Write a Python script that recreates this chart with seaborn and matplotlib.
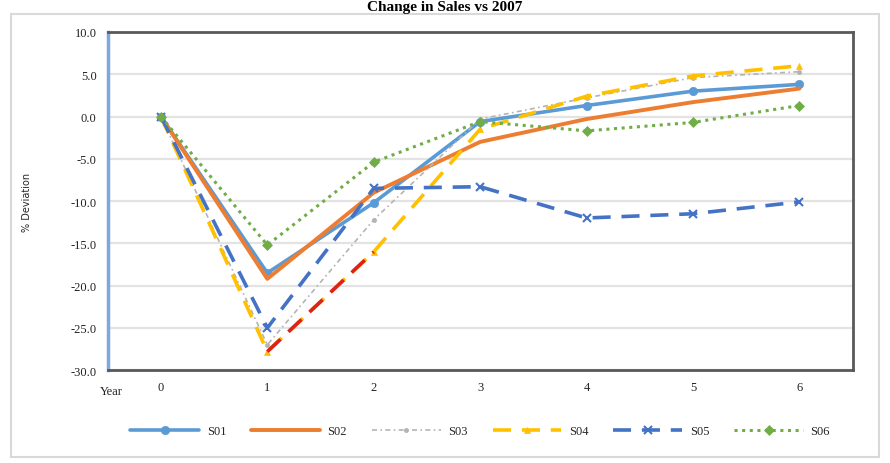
import matplotlib
matplotlib.use("Agg")
import matplotlib.pyplot as plt
import seaborn as sns
import pandas as pd
from matplotlib.patches import Rectangle

years = [0, 1, 2, 3, 4, 5, 6]
series_names = ["S01", "S02", "S03", "S04", "S05", "S06"]
s01 = [0.0, -18.5, -10.2, -0.6, 1.3, 3.0, 3.8]
s02 = [0.0, -19.2, -9.0, -3.0, -0.3, 1.7, 3.3]
s03 = [0.0, -27.0, -12.2, -0.3, 2.2, 4.6, 5.3]
s04 = [0.0, -27.8, -16.0, -1.5, 2.4, 4.8, 6.0]
s05 = [0.0, -25.0, -8.5, -8.3, -12.0, -11.5, -10.1]
s06 = [0.0, -15.2, -5.4, -0.6, -1.7, -0.7, 1.3]
y_ticks = [-30, -25, -20, -15, -10, -5, 0, 5, 10]
title_text = "Change in Sales vs 2007"

values = [s01, s02, s03, s04, s05, s06]
df = pd.DataFrame({
    "Year": years * 6,
    "Series": [n for n in series_names for _ in years],
    "Value": [v for vals in values for v in vals],
})

sns.set_theme(style="white")
plt.rcParams["font.family"] = ["Liberation Serif", "DejaVu Serif"]

fig = plt.figure(figsize=(8.9, 4.64), dpi=100)
ax = fig.add_axes([0.121, 0.200, 0.837, 0.729])

styles = {
    "S01": dict(color="#5B9BD5", ls="-", marker="o", lw=2.6, ms=6),
    "S02": dict(color="#ED7D31", ls="-", marker=None, lw=2.8, ms=6),
    "S03": dict(color="#B4B4B4", ls=(0, (3, 2, 1, 2)), marker="o", lw=1.2, ms=3),
    "S04": dict(color="#FFC000", ls=(0, (5, 3)), marker="^", lw=2.6, ms=5),
    "S05": dict(color="#4472C4", ls=(0, (5, 3)), marker="x", lw=2.6, ms=6),
    "S06": dict(color="#70AD47", ls=(0, (1, 1.5)), marker="D", lw=2.2, ms=5),
}

for name in series_names:
    st = styles[name]
    sub = df[df["Series"] == name]
    sns.lineplot(data=sub, x="Year", y="Value", ax=ax, color=st["color"],
                 linestyle=st["ls"], marker=st["marker"], linewidth=st["lw"],
                 markersize=st["ms"], markeredgecolor=st["color"],
                 markeredgewidth=1.5 if st["marker"] == "x" else 0.5,
                 label=name, zorder=3)

# S04 segment between year 1 and 2 drawn in red (as in the reference)
seg = df[(df["Series"] == "S04") & (df["Year"].isin([1, 2]))]
sns.lineplot(data=seg, x="Year", y="Value", ax=ax, color="#E0201B",
             linestyle=(0, (5, 3)), linewidth=2.6, legend=False, zorder=4)

ax.set_xlim(-0.5, 6.5)
ax.set_ylim(-30, 10)
ax.set_xticks(years)
ax.set_xticklabels([str(y) for y in years], fontsize=9)
ax.set_yticks(y_ticks)
ax.set_yticklabels([f"{t:.1f}" for t in y_ticks], fontsize=9)
ax.yaxis.grid(True, color="#E3E3E3", linewidth=1.6)
ax.xaxis.grid(False)
ax.tick_params(axis="both", length=0, pad=8, colors="#222222")
ax.set_xlabel("")
ax.set_ylabel("% Deviation", fontsize=7, family=["DejaVu Sans"], labelpad=28)

for side in ["top", "right", "bottom"]:
    ax.spines[side].set_color("#595959")
    ax.spines[side].set_linewidth(2)
ax.spines["left"].set_color("#7FA7D9")
ax.spines["left"].set_linewidth(2.5)

fig.text(0.112, 0.155, "Year", fontsize=9, ha="left", va="center", color="#222222")

leg = ax.legend(loc="center", bbox_to_anchor=(0.5, -0.18), ncol=6, frameon=False,
                fontsize=9, handlelength=5.5, columnspacing=2.0, handletextpad=0.6)

fig.text(0.5, 0.998, title_text, fontsize=11, fontweight="bold", ha="center",
         va="top", color="#000000")

fig.patches.append(Rectangle((0.012, 0.012), 0.976, 0.955, transform=fig.transFigure,
                             fill=False, edgecolor="#D9D9D9", linewidth=1.5))

fig.savefig("out.png", dpi=100)
